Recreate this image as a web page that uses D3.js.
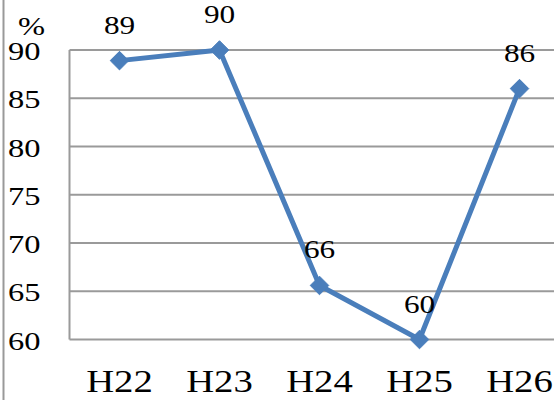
<!DOCTYPE html>
<html><head><meta charset="utf-8">
<script src="https://cdn.jsdelivr.net/npm/d3@7"></script>
<style>body{margin:0;background:#fff}svg{display:block}text{font-family:"Liberation Serif","Times New Roman",serif;fill:#000}</style>
</head><body>
<svg id="c" width="554" height="400"></svg>
<script>
const categories = ["H22","H23","H24","H25","H26"];
const values = [88.9, 90, 65.6, 60, 86];
const valueLabels = ["89","90","66","60","86"];
const yTicks = [60,65,70,75,80,85,90];
const unitLabel = "%";

const svg = d3.select("#c");
const x = d3.scalePoint().domain(categories).range([119.5, 519.5]);
const y = d3.scaleLinear().domain([60, 90]).range([339.5, 50]);
const sx = 1.25;

function txt(g, px, py, size, anchor, s) {
  return g.append("text")
    .attr("transform", `translate(${px},${py}) scale(${sx},1)`)
    .attr("font-size", size).attr("text-anchor", anchor).text(s);
}

svg.append("line").attr("x1",3.5).attr("x2",3.5).attr("y1",0).attr("y2",400)
  .attr("stroke","#999").attr("stroke-width",2);

svg.append("g").selectAll("line").data(yTicks).join("line")
  .attr("x1",69.5).attr("x2",554).attr("y1",d=>y(d)).attr("y2",d=>y(d))
  .attr("stroke","#9a9a9a").attr("stroke-width",2);
svg.append("line").attr("x1",69.5).attr("x2",69.5).attr("y1",y(90)).attr("y2",y(60))
  .attr("stroke","#9a9a9a").attr("stroke-width",2);

const gy = svg.append("g");
yTicks.forEach(d => txt(gy, 8, y(d)+10, 26, "start", d));
txt(svg, 18, 35, 26, "start", unitLabel);

const gx = svg.append("g");
categories.forEach(c => txt(gx, x(c), 392, 31, "middle", c));

const line = d3.line().x((d,i)=>x(categories[i])).y(d=>y(d));
svg.append("path").datum(values).attr("d",line).attr("fill","none")
  .attr("stroke","#4a7ebb").attr("stroke-width",5).attr("stroke-linejoin","round");

svg.append("g").selectAll("path").data(values).join("path")
  .attr("transform",(d,i)=>`translate(${x(categories[i])},${y(d)})`)
  .attr("d",d3.symbol().type(d3.symbolDiamond2).size(220))
  .attr("fill","#4a7ebb").attr("stroke","#4a7ebb").attr("stroke-width",1);

const gl = svg.append("g");
values.forEach((d,i) => txt(gl, x(categories[i]), y(d)-27, 25, "middle", valueLabels[i]));
</script>
</body></html>
